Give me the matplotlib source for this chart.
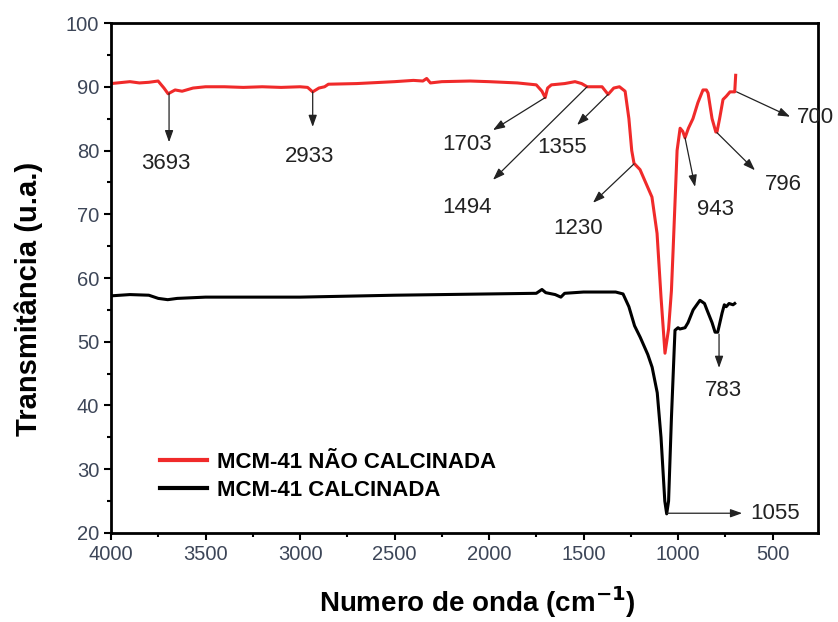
import matplotlib
matplotlib.use('Agg')
from matplotlib import pyplot as plt

plt.rcParams['font.family'] = ['Liberation Sans', 'DejaVu Sans']

# MCM-41 nao calcinada (red)
wn_red = [4000, 3900, 3850, 3800, 3751, 3720, 3698, 3661, 3624, 3566, 3500, 3400, 3300,
          3200, 3100, 3000, 2960, 2933, 2900, 2870, 2850, 2700, 2500, 2400, 2350, 2330,
          2310, 2250, 2100, 2000, 1850, 1750, 1720, 1703, 1690, 1670, 1600, 1545, 1510,
          1481, 1402, 1370, 1340, 1310, 1280, 1260, 1245, 1233, 1201, 1138, 1111, 1090,
          1069, 1050, 1035, 1026, 1005, 989, 975, 963, 945, 921, 895, 868, 850, 841,
          820, 800, 794, 780, 762, 745, 725, 700, 695]
t_red = [90.5, 90.8, 90.6, 90.7, 90.9, 89.8, 88.9, 89.5, 89.3, 89.8, 90.0, 90.0, 89.9,
         90.0, 89.9, 90.0, 89.9, 89.2, 89.8, 90.0, 90.4, 90.5, 90.8, 91.0, 90.9, 91.3,
         90.6, 90.8, 90.9, 90.8, 90.6, 90.3, 89.3, 88.3, 89.8, 90.3, 90.5, 90.8, 90.5,
         90.0, 90.0, 88.8, 89.8, 90.0, 89.3, 85.0, 80.0, 78.0, 77.0, 72.7, 67.0, 57.0,
         48.2, 52.0, 58.0, 64.4, 80.0, 83.5, 83.0, 82.0, 83.5, 85.0, 87.5, 89.5, 89.5, 89.0,
         85.0, 82.9, 82.9, 85.0, 88.0, 88.5, 89.2, 89.2, 91.8]

# MCM-41 calcinada (black)
wn_blk = [4000, 3900, 3800, 3750, 3700, 3650, 3500, 3000, 2500, 2000, 1750, 1720, 1700,
          1650, 1620, 1600, 1500, 1400, 1330, 1291, 1260, 1230, 1200, 1160, 1137, 1110,
          1090, 1070, 1060, 1050, 1035, 1020, 1016, 1000, 990, 963, 947, 920, 884, 860,
          847, 820, 804, 790, 767, 755, 745, 730, 709, 700]
t_blk = [57.2, 57.4, 57.3, 56.8, 56.6, 56.8, 57.0, 57.0, 57.3, 57.5, 57.6, 58.2, 57.7,
         57.4, 57.0, 57.6, 57.8, 57.8, 57.8, 57.5, 55.5, 52.5, 50.7, 48.0, 46.0, 42.0,
         35.0, 25.0, 23.0, 25.0, 38.0, 49.0, 51.8, 52.2, 52.0, 52.2, 53.0, 55.0, 56.5, 56.0,
         55.0, 53.0, 51.5, 51.5, 54.5, 55.8, 55.5, 56.0, 55.8, 56.0]

# label, band point, arrow tip, text position
peak_labels = ['3693', '2933', '1703', '1494', '1355', '1230', '943', '796', '700', '783', '1055']
peak_from = [(3693, 89.0), (2933, 89.2), (1703, 88.3), (1481, 90.0), (1370, 88.8),
             (1233, 77.9), (963, 82.0), (794, 82.8), (690, 89.2), (783, 51.2), (1058, 23.1)]
peak_tip = [(3693, 81.3), (2933, 83.7), (1979, 83.2), (1979, 75.4), (1534, 84.0),
            (1450, 71.8), (910, 74.3), (593, 76.9), (407, 85.3), (783, 45.9), (661, 23.1)]
peak_text = [(3709, 78.0), (2947, 79.0), (2116, 80.9), (2116, 71.0), (1614, 80.4),
             (1529, 67.8), (804, 70.7), (444, 74.6), (370, 85.1), (762, 42.4), (619, 23.1)]

fig = plt.figure(figsize=(8.38, 6.22), dpi=100)
ax = fig.add_axes([0.1325, 0.1431, 0.8435, 0.8199])

ax.plot(wn_red, t_red, color='#f02a2a', lw=2.2, label='MCM-41 NÃO CALCINADA')
ax.plot(wn_blk, t_blk, color='black', lw=2.2, label='MCM-41 CALCINADA')

for lab, p0, p1, pt in zip(peak_labels, peak_from, peak_tip, peak_text):
    ax.annotate('', xy=p1, xytext=p0,
                arrowprops=dict(arrowstyle='-|>,head_length=0.7,head_width=0.25',
                                color='#222222', lw=0.9, shrinkA=0, shrinkB=0))
    ha = 'left' if lab in ('700', '1055') else 'center'
    ax.text(pt[0], pt[1], lab, fontsize=16, color='#222222', ha=ha, va='center')

ax.set_xlim(4000, 260)
ax.set_ylim(20, 100)
ax.set_xticks([4000, 3500, 3000, 2500, 2000, 1500, 1000, 500])
ax.set_xticks(range(3750, 260, -500), minor=True)
ax.set_yticks(range(20, 101, 10))
ax.set_yticks(range(25, 100, 10), minor=True)
ax.tick_params(which='major', direction='out', length=5, width=1.5,
               labelsize=14.5, labelcolor='#3d4658')
ax.tick_params(which='minor', direction='out', length=3, width=1.5)
for s in ax.spines.values():
    s.set_linewidth(2)

ax.set_xlabel('Numero de onda (cm$^{\\mathbf{-1}}$)', fontsize=20, fontweight='bold')
ax.xaxis.set_label_coords(0.518, -0.1)
ax.set_ylabel('Transmitância (u.a.)', fontsize=21, fontweight='bold')
ax.yaxis.set_label_coords(-0.096, 0.46)

leg = ax.legend(loc='lower left', bbox_to_anchor=(0.041, 0.024), frameon=False,
                prop={'weight': 'bold', 'size': 16}, handlelength=2.1,
                handletextpad=0.45, labelspacing=0.3)
for line in leg.get_lines():
    line.set_linewidth(3)

plt.savefig('out.png', dpi=100)
